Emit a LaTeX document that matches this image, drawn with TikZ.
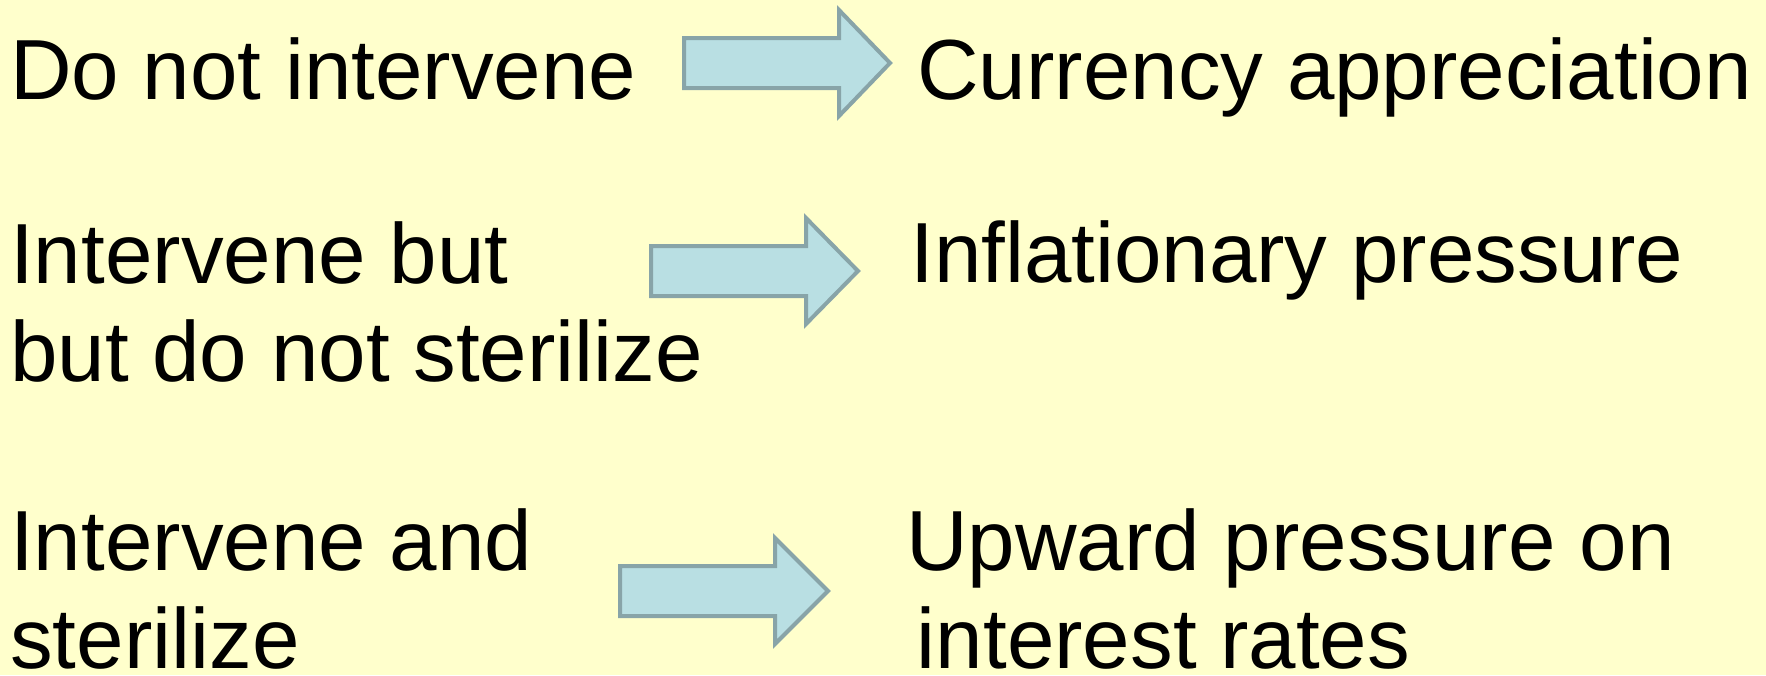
\documentclass[tikz,border=0pt]{standalone}
\usepackage{fontspec}
\setmainfont{Liberation Sans}
\definecolor{paper}{HTML}{FFFFCC}
\definecolor{arrowfill}{HTML}{B9DFE3}
\definecolor{arrowline}{HTML}{88A4A8}
\tikzset{
  label/.style={anchor=base west, inner sep=0pt, align=left, font=\fontsize{64}{73}\selectfont},
  blockarrow/.style={fill=arrowfill, draw=arrowline, line width=3pt, line join=miter}
}

\begin{document}
\begin{tikzpicture}[x=0.75pt, y=-0.75pt]
	\fill[paper] (0,0) rectangle (1766,675);
	\useasboundingbox (0,0) rectangle (1766,675);
	
	% two-line labels sit on the baseline of their last line
	\node[label] (nointervene) at (10,99) {Do not intervene};
	\node[label] (appreciation) at (917,99) {Currency appreciation};
	
	\node[label] (nosterilize) at (10,381) {Intervene but\\but do not sterilize};
	\node[label] (inflation) at (910,282) {Inflationary pressure};
	
	\node[label] (sterilize) at (10,668) {Intervene and\\sterilize};
	\node[label] (interest) at (906,668) {Upward pressure on\\\hspace*{8pt}interest rates};
	
	\draw[blockarrow, shift={(684,63)}] (0,-25) -- (155,-25) -- (155,-53) -- (206,0) -- (155,53) -- (155,25) -- (0,25) -- cycle;
	\draw[blockarrow, shift={(651,271)}] (0,-25) -- (155,-25) -- (155,-53) -- (207,0) -- (155,53) -- (155,25) -- (0,25) -- cycle;
	\draw[blockarrow, shift={(620,591)}] (0,-25) -- (155,-25) -- (155,-53) -- (208,0) -- (155,53) -- (155,25) -- (0,25) -- cycle;
\end{tikzpicture}
\end{document}
